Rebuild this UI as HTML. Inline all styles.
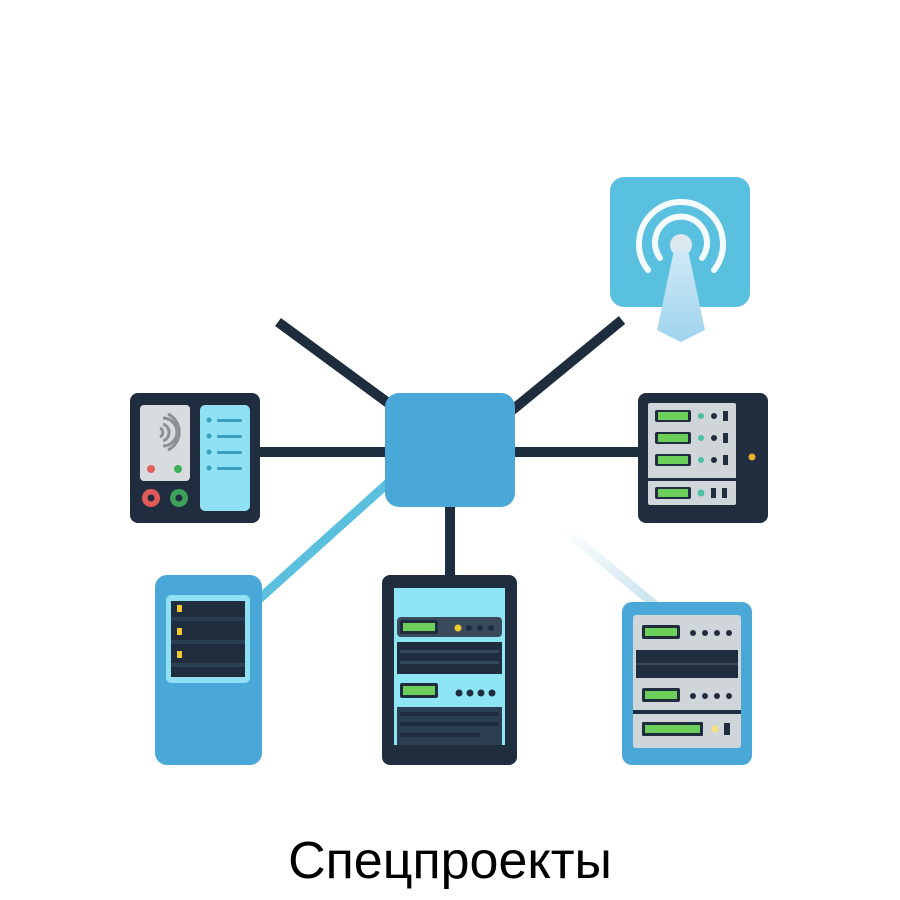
<!DOCTYPE html>
<html><head><meta charset="utf-8"><style>
html,body{margin:0;padding:0;background:#fff;width:900px;height:900px;overflow:hidden}
svg{display:block}
text{font-family:"Liberation Sans",sans-serif}
</style></head><body>
<svg width="900" height="900" viewBox="0 0 900 900">
<defs>
<linearGradient id="fade" x1="0" y1="0" x2="1" y2="1"><stop offset="0" stop-color="#ffffff"/><stop offset="1" stop-color="#c9e4ee"/></linearGradient>
<linearGradient id="tow" x1="0" y1="0" x2="0" y2="1"><stop offset="0" stop-color="#cfe9f6"/><stop offset="1" stop-color="#9fd4ee"/></linearGradient>
</defs>
<g stroke="#1e2d3d" stroke-width="10" fill="none">
<line x1="278" y1="322" x2="395" y2="408"/>
<line x1="510" y1="412" x2="622" y2="320"/>
<line x1="255" y1="452" x2="390" y2="452"/>
<line x1="510" y1="452" x2="642" y2="452"/>
<line x1="450" y1="500" x2="450" y2="580"/>
</g>
<line x1="388" y1="483" x2="258" y2="600" stroke="#5bc0de" stroke-width="9"/>
<line x1="565" y1="530" x2="655" y2="605" stroke="url(#fade)" stroke-width="9"/>
<rect x="385" y="393" width="130" height="114" rx="14" fill="#4aa8d8"/>
<rect x="130" y="393" width="130" height="130" rx="8" fill="#1f2d3f"/>
<rect x="140" y="405" width="50" height="76" rx="4" fill="#d8dcde"/>
<g fill="none" stroke="#8a9094" stroke-width="3">
<path d="M163 418 a14 14 0 0 1 0 28"/><path d="M163 424 a9 9 0 0 1 0 17"/><path d="M160 428 a5 5 0 0 1 0 9"/>
<path d="M168 414 a20 20 0 0 1 0 36"/>
</g>
<circle cx="151" cy="469" r="4" fill="#e06060"/><circle cx="178" cy="469" r="4" fill="#3fae5c"/>
<circle cx="151" cy="498" r="9" fill="#e05a5a"/><circle cx="151" cy="498" r="3.5" fill="#1f2d3f"/>
<circle cx="179" cy="498" r="9" fill="#3fa05a"/><circle cx="179" cy="498" r="3.5" fill="#1f2d3f"/>
<rect x="200" y="405" width="50" height="106" rx="5" fill="#8ee0f2"/>
<g fill="#3a9fc0"><circle cx="209" cy="420" r="2.5"/><circle cx="209" cy="436" r="2.5"/><circle cx="209" cy="452" r="2.5"/><circle cx="209" cy="468" r="2.5"/>
<rect x="217" y="419" width="25" height="3" rx="1.5"/><rect x="217" y="435" width="25" height="3" rx="1.5"/><rect x="217" y="451" width="25" height="3" rx="1.5"/><rect x="217" y="467" width="25" height="3" rx="1.5"/></g>
<rect x="610" y="177" width="140" height="130" rx="14" fill="#5ac0e0"/>
<g fill="none" stroke="#f4fbfe" stroke-width="6" stroke-linecap="round">
<path d="M648 270 A42 42 0 1 1 714 270"/>
<path d="M660 258 A26 26 0 1 1 702 258"/>
</g>
<circle cx="681" cy="245" r="11" fill="#dbe8ee"/>
<polygon points="674,250 688,250 705,330 681,342 657,330" fill="url(#tow)"/>
<rect x="638" y="393" width="130" height="130" rx="8" fill="#1f2d3f"/>
<rect x="648" y="403" width="88" height="102" rx="2" fill="#cfd5d8"/>
<rect x="648" y="478" width="88" height="3" fill="#1f2d3f"/>
<g>
<rect x="655" y="410" width="36" height="12" rx="2" fill="#1f2d3f"/><rect x="658" y="412" width="30" height="8" fill="#6ccf5a"/>
<rect x="655" y="432" width="36" height="12" rx="2" fill="#1f2d3f"/><rect x="658" y="434" width="30" height="8" fill="#6ccf5a"/>
<rect x="655" y="454" width="36" height="12" rx="2" fill="#1f2d3f"/><rect x="658" y="456" width="30" height="8" fill="#6ccf5a"/>
<rect x="655" y="487" width="36" height="12" rx="2" fill="#1f2d3f"/><rect x="658" y="489" width="30" height="8" fill="#6ccf5a"/>
<circle cx="701" cy="416" r="3" fill="#4cc0a0"/><circle cx="701" cy="438" r="3" fill="#4cc0a0"/><circle cx="701" cy="460" r="3" fill="#4cc0a0"/><circle cx="701" cy="493" r="3.5" fill="#4cc0a0"/>
<circle cx="714" cy="416" r="3" fill="#1f2d3f"/><circle cx="714" cy="438" r="3" fill="#1f2d3f"/><circle cx="714" cy="460" r="3" fill="#1f2d3f"/>
<rect x="723" y="411" width="5" height="10" fill="#1f2d3f"/><rect x="723" y="433" width="5" height="10" fill="#1f2d3f"/><rect x="723" y="455" width="5" height="10" fill="#1f2d3f"/>
<rect x="711" y="488" width="5" height="10" fill="#1f2d3f"/><rect x="722" y="488" width="5" height="10" fill="#1f2d3f"/>
</g>
<circle cx="752" cy="457" r="3.5" fill="#e8b030"/>
<rect x="155" y="575" width="107" height="190" rx="12" fill="#4aa8d8"/>
<rect x="166" y="595" width="84" height="88" rx="5" fill="#8ee0f2"/>
<rect x="171" y="601" width="74" height="76" fill="#1f2d3f"/>
<g fill="#2c3e52"><rect x="171" y="617" width="74" height="4"/><rect x="171" y="640" width="74" height="4"/><rect x="171" y="663" width="74" height="4"/></g>
<g fill="#f0c930"><rect x="177" y="605" width="5" height="7"/><rect x="177" y="628" width="5" height="7"/><rect x="177" y="651" width="5" height="7"/></g>
<rect x="382" y="575" width="135" height="190" rx="8" fill="#1f2d3f"/>
<rect x="394" y="588" width="111" height="157" fill="#8ee6f5"/>
<rect x="397" y="617" width="105" height="20" rx="4" fill="#3a4a5c"/>
<rect x="400" y="620" width="38" height="14" rx="2" fill="#1f2d3f"/><rect x="403" y="623" width="32" height="8" fill="#6ccf5a"/>
<circle cx="458" cy="628" r="3.5" fill="#f0c930"/><circle cx="469" cy="628" r="3" fill="#1f2d3f"/><circle cx="480" cy="628" r="3" fill="#1f2d3f"/><circle cx="491" cy="628" r="3" fill="#1f2d3f"/>
<rect x="397" y="642" width="105" height="32" fill="#1f2d3f"/>
<g fill="#34475b"><rect x="400" y="650" width="99" height="3"/><rect x="400" y="661" width="99" height="3"/></g>
<rect x="400" y="683" width="38" height="15" rx="2" fill="#1f2d3f"/><rect x="403" y="686" width="32" height="9" fill="#6ccf5a"/>
<circle cx="459" cy="693" r="3.5" fill="#1f2d3f"/><circle cx="470" cy="693" r="3.5" fill="#1f2d3f"/><circle cx="481" cy="693" r="3.5" fill="#1f2d3f"/><circle cx="492" cy="693" r="3.5" fill="#1f2d3f"/>
<rect x="397" y="707" width="105" height="38" fill="#2c3e52"/>
<g fill="#1f2d3f"><rect x="400" y="712" width="99" height="4"/><rect x="400" y="722" width="99" height="4"/><rect x="400" y="733" width="80" height="4"/></g>
<rect x="622" y="602" width="130" height="163" rx="10" fill="#4aa8d8"/>
<rect x="633" y="615" width="108" height="133" rx="3" fill="#cfd5d8"/>
<rect x="642" y="625" width="38" height="14" rx="2" fill="#1f2d3f"/><rect x="645" y="628" width="32" height="8" fill="#6ccf5a"/>
<g fill="#1f2d3f"><circle cx="693" cy="633" r="3"/><circle cx="705" cy="633" r="3"/><circle cx="717" cy="633" r="3"/><circle cx="729" cy="633" r="3"/></g>
<rect x="636" y="650" width="102" height="28" fill="#1f2d3f"/>
<rect x="636" y="663" width="102" height="2" fill="#34475b"/>
<rect x="642" y="688" width="38" height="14" rx="2" fill="#1f2d3f"/><rect x="645" y="691" width="32" height="8" fill="#6ccf5a"/>
<g fill="#1f2d3f"><circle cx="693" cy="696" r="3"/><circle cx="705" cy="696" r="3"/><circle cx="717" cy="696" r="3"/><circle cx="729" cy="696" r="3"/></g>
<rect x="633" y="710" width="108" height="4" fill="#1f2d3f"/>
<rect x="642" y="722" width="61" height="14" rx="1" fill="#1f2d3f"/><rect x="645" y="725" width="55" height="8" fill="#6ccf5a"/>
<circle cx="715" cy="729" r="3.5" fill="#f5e07a"/><rect x="724" y="723" width="6" height="12" fill="#1f2d3f"/>
<text x="450" y="878" text-anchor="middle" font-size="52" fill="#000">Спецпроекты</text>
</svg>
</body></html>
